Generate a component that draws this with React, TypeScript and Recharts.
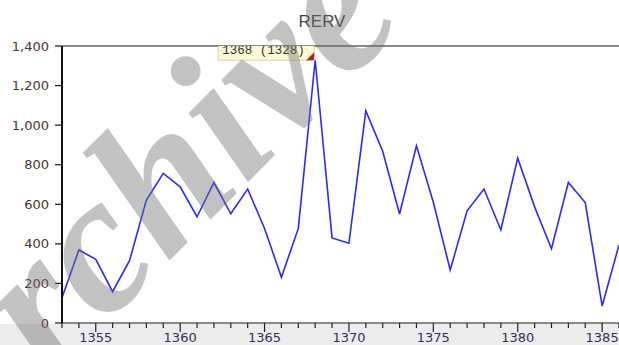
import React from "react";
import { LineChart, Line, XAxis, YAxis, ReferenceLine } from "recharts";

const years = [
  1353, 1354, 1355, 1356, 1357, 1358, 1359, 1360, 1361, 1362, 1363, 1364,
  1365, 1366, 1367, 1368, 1369, 1370, 1371, 1372, 1373, 1374, 1375, 1376,
  1377, 1378, 1379, 1380, 1381, 1382, 1383, 1384, 1385, 1386,
];
const rervValues = [
  128, 369, 322, 158, 315, 621, 756, 688, 537, 710, 552, 677,
  478, 231, 478, 1328, 430, 403, 1072, 868, 551, 896, 610, 268,
  567, 677, 470, 833, 587, 375, 710, 609, 86, 394,
];
const yTicks = [0, 200, 400, 600, 800, 1000, 1200, 1400];
const title = "RERV";
const highlightYear = 1368;
const watermark = "rchive";

const data = years.map((y, i) => ({ year: y, value: rervValues[i] }));

const XTick = (props: any) => {
  const { x, y, payload } = props;
  const major = payload.value % 5 === 0;
  return (
    <g>
      <line x1={x} x2={x} y1={y} y2={y + (major ? 9 : 5)} stroke="#222" strokeWidth={1.2} />
      {major && (
        <text x={x} y={y + 19} textAnchor="middle" fontSize={13} fontFamily="DejaVu Sans" fill="#33305a">
          {payload.value}
        </text>
      )}
    </g>
  );
};

const Dot = (props: any) => {
  const { cx, cy, payload } = props;
  if (!payload || payload.year !== highlightYear) return <g key={"d" + props.index} />;
  return (
    <g key={"d" + props.index}>
      <rect x={cx - 97} y={cy - 21} width={96} height={21} fill="#fbf9d6" stroke="#d9d5a8" strokeWidth={1} />
      <text x={cx - 93} y={cy - 6} fontSize={12.5} fontFamily="Liberation Mono" fill="#333">
        {`${payload.year}  (${payload.value})`}
      </text>
      <path d={`M ${cx - 1} ${cy - 8} L ${cx - 1} ${cy} L ${cx - 9} ${cy} Z`} fill="#b02a1a" />
    </g>
  );
};

export default function App() {
  return (
    <div style={{ position: "absolute", left: 0, top: 0, width: 619, height: 345, background: "#fff", overflow: "hidden" }}>
      <div style={{ position: "absolute", left: 0, top: 324, width: 619, height: 21, background: "#ececec" }} />
      <div style={{ position: "absolute", left: 0, top: 0 }}>
        <LineChart width={619} height={345} data={data} margin={{ top: 46, right: 0, bottom: 0, left: 0 }}>
          <XAxis
            dataKey="year"
            type="number"
            domain={[1353, 1386]}
            ticks={years}
            interval={0}
            height={22}
            tickSize={0}
            tickMargin={0}
            tickLine={false}
            tick={<XTick />}
            axisLine={{ stroke: "#888", strokeWidth: 2 }}
            allowDataOverflow
          />
          <YAxis
            type="number"
            domain={[0, 1400]}
            ticks={yTicks}
            width={62}
            tickSize={7}
            tickMargin={6}
            tickFormatter={(v: number) => v.toLocaleString("en-US")}
            tick={{ fontSize: 13, fontFamily: "DejaVu Sans", fill: "#4d3333" }}
            tickLine={{ stroke: "#111", strokeWidth: 1.2 }}
            axisLine={{ stroke: "#111", strokeWidth: 2 }}
            allowDataOverflow
          />
          <ReferenceLine y={1400} stroke="#888" strokeWidth={2} />
          <Line
            type="linear"
            dataKey="value"
            stroke="#2a2aff"
            strokeWidth={1.6}
            dot={<Dot />}
            activeDot={false}
            isAnimationActive={false}
          />
        </LineChart>
      </div>
      <svg width={619} height={345} style={{ position: "absolute", left: 0, top: 0, pointerEvents: "none" }}>
        <text x={322} y={27} textAnchor="middle" fontSize={17} fontFamily="Liberation Sans" fill="#444">
          {title}
        </text>
        <text
          transform="translate(50,380) rotate(-45)"
          fontSize={198}
          fontFamily="Liberation Serif"
          fontStyle="italic"
          fontWeight="bold"
          fill="#707070"
          opacity={0.42}
        >
          {watermark}
        </text>
      </svg>
    </div>
  );
}
